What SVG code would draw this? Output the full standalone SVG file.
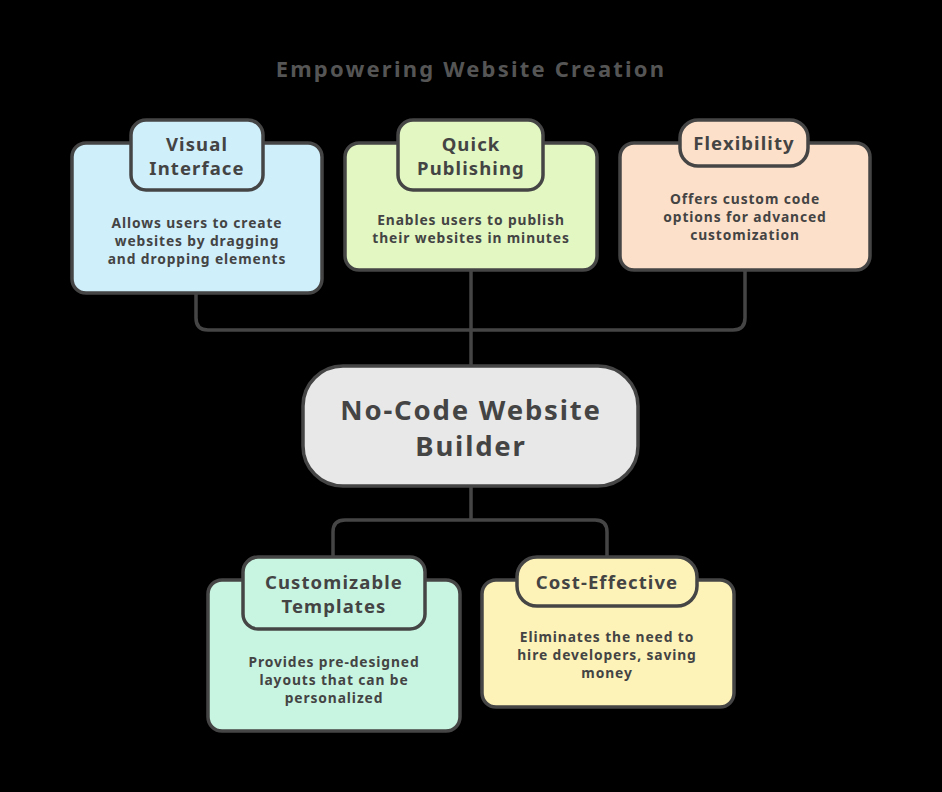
<svg xmlns="http://www.w3.org/2000/svg" width="942" height="792" viewBox="0 0 942 792">
<style>
.box{stroke:#454545;stroke-width:3.5}
.tab{stroke:#454545;stroke-width:3.5}
.t{font-family:"Noto Sans","Liberation Sans",sans-serif;font-weight:700;fill:#444;text-anchor:middle}
.h{font-size:18.5px;letter-spacing:1.1px}
.d{font-size:13.8px;letter-spacing:0.9px}
.c{font-size:27.5px;letter-spacing:1.8px}
.conn{fill:none;stroke:#454545;stroke-width:3.5;stroke-linejoin:round}
</style>
<rect width="942" height="792" fill="#000"/>
<text class="t" x="471" y="77" font-size="22" style="fill:#555;letter-spacing:2.2px">Empowering Website Creation</text>
<g id="connectors">
<path class="conn" d="M196 293 V318 Q196 330 208 330 H733 Q745 330 745 318 V270"/>
<path class="conn" d="M471 270 V366"/>
<path class="conn" d="M471 486 V520 M333 560 V532 Q333 520 345 520 H595 Q607 520 607 532 V560"/>
</g>
<g id="visual-interface">
<rect class="box" x="72" y="143" width="250" height="150" rx="14" fill="#cfeffb"/>
<rect class="tab" x="131" y="120" width="132" height="70" rx="15" fill="#cfeffb"/>
<text class="t h" x="197" y="151">Visual</text>
<text class="t h" x="197" y="175">Interface</text>
<text class="t d" x="197" y="228">Allows users to create</text>
<text class="t d" x="197" y="246">websites by dragging</text>
<text class="t d" x="197" y="264">and dropping elements</text>
</g>
<g id="quick-publishing">
<rect class="box" x="345" y="143" width="252" height="127" rx="14" fill="#e2f7c2"/>
<rect class="tab" x="398" y="120" width="145" height="70" rx="15" fill="#e2f7c2"/>
<text class="t h" x="471" y="151">Quick</text>
<text class="t h" x="471" y="175">Publishing</text>
<text class="t d" x="471" y="225">Enables users to publish</text>
<text class="t d" x="471" y="243">their websites in minutes</text>
</g>
<g id="flexibility">
<rect class="box" x="620" y="143" width="250" height="127" rx="14" fill="#fde0c9"/>
<rect class="tab" x="680" y="120" width="128" height="46" rx="18" fill="#fde0c9"/>
<text class="t h" x="744" y="150">Flexibility</text>
<text class="t d" x="745" y="204">Offers custom code</text>
<text class="t d" x="745" y="222">options for advanced</text>
<text class="t d" x="745" y="240">customization</text>
</g>
<g id="center">
<rect class="box" x="303" y="366" width="335" height="120" rx="40" fill="#e8e8e8"/>
<text class="t c" x="471" y="420">No-Code Website</text>
<text class="t c" x="471" y="456">Builder</text>
</g>
<g id="customizable-templates">
<rect class="box" x="208" y="580" width="252" height="151" rx="14" fill="#c8f5e1"/>
<rect class="tab" x="243" y="557" width="182" height="72" rx="15" fill="#c8f5e1"/>
<text class="t h" x="334" y="589">Customizable</text>
<text class="t h" x="334" y="613">Templates</text>
<text class="t d" x="334" y="667">Provides pre-designed</text>
<text class="t d" x="334" y="685">layouts that can be</text>
<text class="t d" x="334" y="703">personalized</text>
</g>
<g id="cost-effective">
<rect class="box" x="482" y="580" width="252" height="127" rx="14" fill="#fdf3b8"/>
<rect class="tab" x="517" y="557" width="180" height="49" rx="20" fill="#fdf3b8"/>
<text class="t h" x="607" y="589">Cost-Effective</text>
<text class="t d" x="607" y="642">Eliminates the need to</text>
<text class="t d" x="607" y="660">hire developers, saving</text>
<text class="t d" x="607" y="678">money</text>
</g>
</svg>
